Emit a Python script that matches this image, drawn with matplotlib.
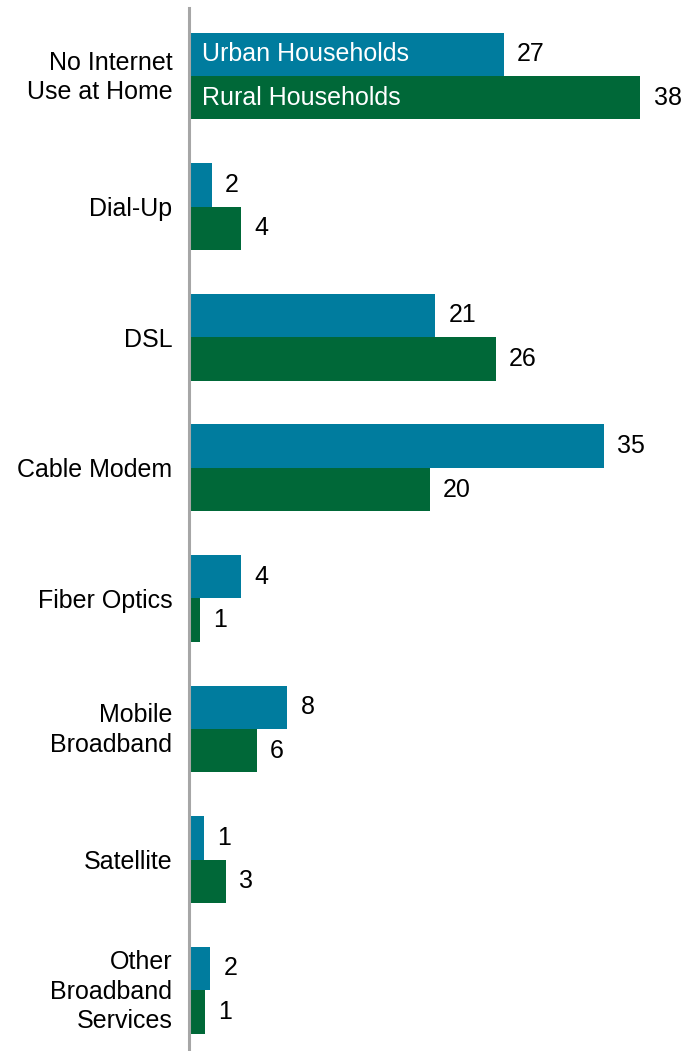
import numpy as np
import matplotlib.pyplot as plt
import matplotlib.transforms as mtransforms

plt.rcParams['font.family'] = ['Liberation Sans', 'DejaVu Sans']

categories = ["No Internet\nUse at Home", "Dial-Up", "DSL", "Cable Modem",
              "Fiber Optics", "Mobile\nBroadband", "Satellite",
              "Other\nBroadband\nServices"]
urban = [26.6, 1.9, 20.8, 35.0, 4.4, 8.3, 1.3, 1.8]
rural = [38.1, 4.4, 25.9, 20.3, 0.9, 5.7, 3.1, 1.35]
series_names = ["Urban Households", "Rural Households"]

urban_color = "#007C9E"
rural_color = "#006838"
fs = 18

fig = plt.figure(figsize=(6.83, 10.51), dpi=100)
ax = fig.add_axes([189 / 683, 0, 1 - 189 / 683, 1 - 8 / 1051])

y = np.arange(len(categories))
h = 0.333
ax.barh(y - h / 2, urban, height=h, color=urban_color)
ax.barh(y + h / 2, rural, height=h, color=rural_color)

for yy, v in zip(y - h / 2, urban):
    ax.text(v + 1.1, yy, f"{v:.0f}", va="center", ha="left", fontsize=fs)
for yy, v in zip(y + h / 2, rural):
    ax.text(v + 1.1, yy, f"{v:.0f}", va="center", ha="left", fontsize=fs)

# series names inside the first pair of bars
ax.text(1.1, -h / 2, series_names[0], color="white", va="center", ha="left", fontsize=fs)
ax.text(1.1, h / 2, series_names[1], color="white", va="center", ha="left", fontsize=fs)

ax.set_xlim(0, (683 - 189) / 11.85)
ax.set_ylim((1051 - 76) / 130.6, (8 - 76) / 130.6)

ax.set_yticks(y)
ax.set_yticklabels(categories, fontsize=fs, linespacing=1.3)
ax.tick_params(axis="y", length=0, pad=12)
ax.set_xticks([])

# nudge the multi-line labels up a little
shift = mtransforms.ScaledTranslation(0, 4 / 100, fig.dpi_scale_trans)
for lab in ax.get_yticklabels():
    if "\n" in lab.get_text():
        lab.set_transform(lab.get_transform() + shift)

for s in ["top", "right", "bottom"]:
    ax.spines[s].set_visible(False)
ax.spines["left"].set_color("#A6A6A6")
ax.spines["left"].set_linewidth(2.2)

fig.savefig("out.png", dpi=100)
